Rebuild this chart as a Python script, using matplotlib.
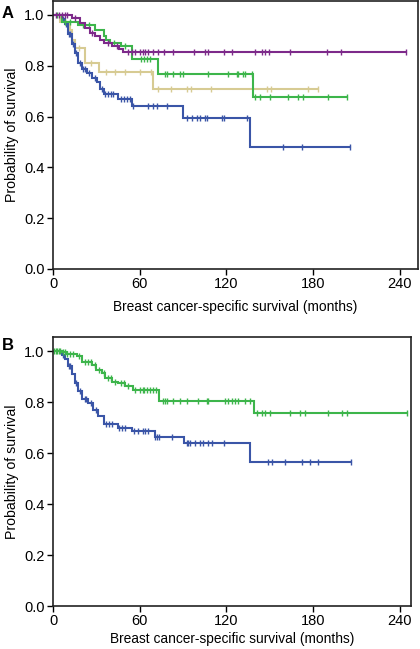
import numpy as np
import matplotlib
matplotlib.use("Agg")
import matplotlib.pyplot as plt

plt.rcParams['font.family'] = ['Liberation Sans', 'DejaVu Sans']

# ---------------- Panel A ----------------
a_purple_t = [0, 13, 18.7, 22, 25.6, 29, 32.5, 35, 41, 46, 48.5, 244]
a_purple_s = [1.0, 0.99, 0.967, 0.95, 0.93, 0.918, 0.90, 0.888, 0.878, 0.865, 0.856, 0.856]
a_purple_c = [2, 4, 6, 8, 10, 15, 27, 38, 44, 52, 55, 57, 60, 62, 64, 66, 69, 73, 77, 83,
              97.5, 105, 107, 118, 124, 140, 144.5, 146.5, 149.5, 164, 189.6, 199, 244]

a_green_t = [0, 6, 17.5, 29, 35, 37, 39.5, 47, 54.5, 73, 138.5, 203.5]
a_green_s = [1.0, 0.974, 0.96, 0.94, 0.918, 0.90, 0.888, 0.878, 0.826, 0.767, 0.676, 0.676]
a_green_c = [3, 8, 12, 21, 25, 42, 50, 61, 63, 65, 67, 77.5, 79, 83, 88, 90, 107, 121, 127, 128,
             131.5, 133, 138, 140, 143, 150, 162.6, 169.6, 173, 190, 203.5]

a_tan_t = [0, 5, 12, 13, 15, 22, 32, 69, 183.5]
a_tan_s = [1.0, 0.974, 0.94, 0.90, 0.87, 0.81, 0.774, 0.71, 0.71]
a_tan_c = [8, 18, 26, 37, 43, 50, 60, 68, 73, 82, 93, 95.5, 109, 148, 151, 176.5, 183.5]

a_blue_t = [0, 6, 8, 10.5, 13, 15, 17.5, 20, 23.5, 27, 30.5, 32.5, 35, 45, 54.5, 90, 136, 205.5]
a_blue_s = [1.0, 0.985, 0.965, 0.925, 0.886, 0.85, 0.81, 0.787, 0.773, 0.75, 0.735, 0.71, 0.69,
            0.67, 0.643, 0.596, 0.48, 0.48]
a_blue_c = [7, 9, 11, 12, 14, 16, 19, 21, 22, 25, 29, 34, 36, 38, 40, 41.5, 47, 49, 51, 53,
            55.5, 66, 69, 72, 79, 92.5, 96, 99.5, 101.5, 105, 106.5, 117, 118, 134, 159, 172, 205.5]

# ---------------- Panel B ----------------
b_green_t = [0, 6, 9.5, 16.5, 20, 27, 30, 34, 36, 41, 45, 50, 55.5, 73.4, 139, 245]
b_green_s = [1.0, 0.995, 0.99, 0.98, 0.958, 0.946, 0.927, 0.914, 0.895, 0.88, 0.876, 0.863,
             0.846, 0.805, 0.758, 0.758]
b_green_c = [1, 2, 3, 4, 5, 7, 8, 10, 12, 14, 18, 22, 24, 26, 29, 32, 35, 38, 40, 43, 47, 49,
             52, 57, 60, 62, 63, 65, 67, 69, 71, 76, 77.5, 79, 83, 88, 93, 100.5, 106.5, 107,
             119, 121, 124, 126, 128, 133, 136, 141, 144.6, 147, 150, 164, 171, 174.5, 190,
             200, 203.5, 245]

b_blue_t = [0, 6, 8, 10.5, 13, 15, 17.5, 20, 24.5, 28, 31, 35, 45, 54.5, 70.5, 90.7, 136, 206]
b_blue_s = [1.0, 0.985, 0.97, 0.94, 0.91, 0.875, 0.843, 0.81, 0.797, 0.77, 0.745, 0.715, 0.70,
            0.686, 0.664, 0.638, 0.566, 0.566]
b_blue_c = [7, 11, 12, 16, 19, 22, 23, 26, 30, 37, 39, 41, 46, 48, 50, 56, 59, 62, 64, 66,
            70.5, 72, 73, 82, 93, 93.5, 95, 98, 102, 104, 107, 110, 118, 149, 151.5, 160.5,
            172, 178, 183.5, 206]

x_ticks = [0, 60, 120, 180, 240]
y_ticks = [0.0, 0.2, 0.4, 0.6, 0.8, 1.0]

C_PURPLE = '#7d2a8a'
C_GREEN = '#3db54b'
C_TAN = '#d7cb93'
C_BLUE = '#3a55a7'

W, H = 420, 649
fig = plt.figure(figsize=(W / 100, H / 100), dpi=100)


def make_ax(left, top, right, bottom):
    return fig.add_axes([left / W, 1 - bottom / H, (right - left) / W, (bottom - top) / H])


def km(ax, t, s, c, color, lw=1.5):
    ax.step(t, s, where='post', color=color, lw=lw, solid_joinstyle='miter')
    t_arr = np.asarray(t)
    s_arr = np.asarray(s)
    idx = np.searchsorted(t_arr, np.asarray(c), side='right') - 1
    ax.plot(c, s_arr[idx], ls='none', marker='|', ms=5, mew=1.0, color=color)


def style(ax, xmax, xpad):
    ax.set_xlim(0, xmax)
    ax.set_ylim(0, 1.055)
    ax.set_xticks(x_ticks)
    ax.set_yticks(y_ticks)
    ax.set_yticklabels([f'{v:.1f}' for v in y_ticks])
    ax.tick_params(direction='out', length=4, width=1, labelsize=10.5, pad=2)
    for sp in ax.spines.values():
        sp.set_linewidth(1.2)
        sp.set_color('#222222')
    ax.set_xlabel('Breast cancer-specific survival (months)', fontsize=9.9, labelpad=xpad)
    ax.set_ylabel('Probability of survival', fontsize=10.2, labelpad=4)


axA = make_ax(53, 1, 418, 269)
km(axA, a_tan_t, a_tan_s, a_tan_c, C_TAN)
km(axA, a_blue_t, a_blue_s, a_blue_c, C_BLUE)
km(axA, a_green_t, a_green_s, a_green_c, C_GREEN)
km(axA, a_purple_t, a_purple_s, a_purple_c, C_PURPLE)
style(axA, 252.6, 6)

axB = make_ax(53, 337, 411, 606)
km(axB, b_blue_t, b_blue_s, b_blue_c, C_BLUE)
km(axB, b_green_t, b_green_s, b_green_c, C_GREEN)
style(axB, 247.7, 2.5)

fig.text(2 / W, 1 - 14 / H, 'A', fontsize=12, fontweight='bold', va='center', ha='left')
fig.text(2 / W, 1 - 345 / H, 'B', fontsize=12, fontweight='bold', va='center', ha='left')

fig.savefig('out.png', dpi=100)
